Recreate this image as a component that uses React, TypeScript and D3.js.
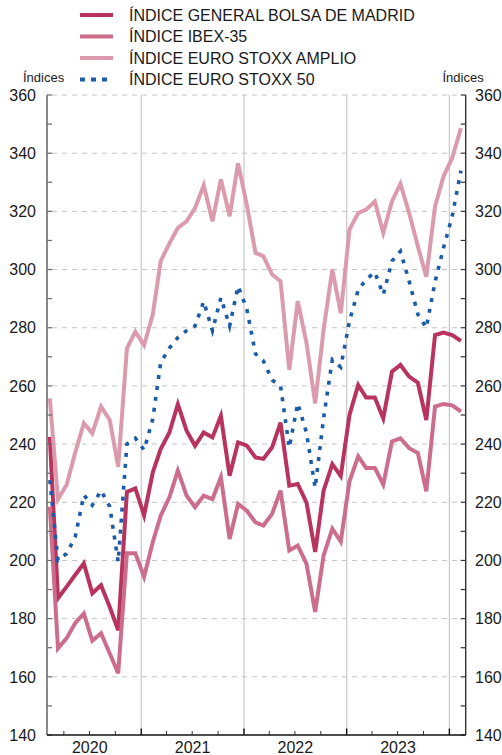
import React from "react";
import * as d3 from "d3";

// monthly observations, Feb 2020 .. Feb 2024
const months = d3.timeMonth.range(new Date(2020, 1, 1), new Date(2024, 2, 1)).map(d => new Date(d.getFullYear(), d.getMonth(), 11));

const bolsaMadrid = [242.5, 187, 191, 195, 199, 188.7, 191.5, 184, 176, 223.6, 224.8, 215.5, 230.3, 238.3, 244, 253.7, 244.6, 239.4, 244, 242.3, 249.7, 229.1, 240.6, 239.5, 235.4, 234.9, 238.9, 247.4, 225.7, 226.3, 220, 202.9, 224, 233.1, 229, 250, 260.3, 256, 256, 248.8, 264.9, 267.2, 263.2, 261.1, 248.3, 277.5, 278.3, 277.5, 275.5];
const ibex35 = [218.5, 169.8, 173.3, 178.4, 181.8, 172.4, 175, 168, 161.2, 202.5, 202.5, 194.4, 206.3, 215.4, 221.7, 230.9, 222.3, 218.3, 222.3, 221.1, 228.6, 207.4, 219.4, 217.1, 213.1, 212, 216, 224, 203.4, 205.1, 198.9, 182.3, 201.7, 210.9, 206.5, 227.2, 235.8, 231.8, 231.8, 226.1, 240.9, 242, 238.6, 236.9, 223.8, 252.9, 253.8, 253.3, 251.2];
const euroStoxxAmplio = [255.7, 221, 226, 237, 247.2, 243.7, 252.9, 248.3, 232.2, 272.9, 278.6, 274, 284.6, 302.9, 309, 314.3, 316.6, 321.1, 329, 316.6, 331, 318.3, 336.5, 322.3, 305.7, 304.6, 298.3, 296, 265.5, 289.1, 274.9, 254, 279.4, 300, 285, 313.7, 319.4, 320.6, 323.4, 312.6, 323.4, 329.5, 319.4, 308, 297.5, 321.7, 332, 338.3, 348.6];
const euroStoxx50 = [227.6, 200, 202.4, 208, 222.5, 219, 224, 218.5, 199.5, 240, 242, 238, 248.6, 268, 273, 276.6, 279, 280.6, 289, 279, 290.3, 280.6, 294.3, 286.5, 271, 268.6, 262, 260, 238.8, 254, 244, 225, 249, 269, 266.5, 282.3, 293, 296.6, 299.1, 291.4, 302.9, 306.3, 296, 284.6, 280, 295.7, 307.4, 318.3, 334];

const seriesNames = ["ÍNDICE GENERAL BOLSA DE MADRID", "ÍNDICE IBEX-35", "ÍNDICE EURO STOXX AMPLIO", "ÍNDICE EURO STOXX 50"];
const seriesValues = [bolsaMadrid, ibex35, euroStoxxAmplio, euroStoxx50];
const seriesColors = ["#b8345e", "#cc6d8b", "#dc9bad", "#1b5ca8"];
const seriesDash = [null, null, null, "4,7"];

const yTicks = [140, 160, 180, 200, 220, 240, 260, 280, 300, 320, 340, 360];
const yearLabels = ["2020", "2021", "2022", "2023"];

const FONT = "'Liberation Sans', Arial, sans-serif";

export default function App() {
  const width = 502, height = 755;
  const left = 47, right = 465.7, top = 95, bottom = 735;

  const x = d3.scaleTime().domain([new Date(2020, 1, 1), new Date(2024, 1, 28)]).range([left, right]);
  const y = d3.scaleLinear().domain([140, 360]).range([bottom, top]);

  const line = d3.line<number>()
    .x((_, i) => x(months[i]))
    .y(d => y(d));

  const yearStarts = [2021, 2022, 2023, 2024].map(yr => new Date(yr, 0, 1));
  const quarterTicks = d3.timeMonth.every(3)!.range(new Date(2020, 1, 1), new Date(2024, 1, 28))
    .filter(d => d.getMonth() !== 0);
  const minorY = d3.range(140, 361, 10);

  return (
    <svg width={width} height={height} style={{ position: "absolute", left: 0, top: 0 }} fontFamily={FONT}>
      {/* legend */}
      {seriesNames.map((name, i) => (
        <g key={name} transform={`translate(0,${15 + i * 21.5})`}>
          <line x1={80} x2={113} y1={0} y2={0} stroke={seriesColors[i]} strokeWidth={4}
            strokeDasharray={i === 3 ? "5,6" : undefined} />
          <text x={129} y={5.7} fontSize={16} fill="#1a1a1a">{name}</text>
        </g>
      ))}
      <text x={23} y={82} fontSize={13} fill="#1a1a1a">Índices</text>
      <text x={442.5} y={82} fontSize={13} fill="#1a1a1a">Índices</text>

      {/* grid */}
      {yTicks.filter(v => v > 140).map(v => (
        <line key={v} x1={left + 5} x2={right - 5} y1={y(v)} y2={y(v)} stroke="#c4c4c4" strokeWidth={1} strokeDasharray="5,5" />
      ))}
      {yearStarts.map(d => (
        <line key={+d} x1={x(d)} x2={x(d)} y1={top} y2={bottom} stroke="#c8c8c8" strokeWidth={1.2} />
      ))}

      {/* series */}
      {seriesValues.map((vals, i) => (
        <path key={i} d={line(vals) || ""} fill="none" stroke={seriesColors[i]} strokeWidth={i === 3 ? 3.6 : 4}
          strokeLinejoin="miter" strokeDasharray={seriesDash[i] || undefined} />
      ))}

      {/* axes */}
      <line x1={left} x2={left} y1={top} y2={bottom} stroke="#6b6b6b" strokeWidth={1.6} />
      <line x1={right} x2={right} y1={top} y2={bottom} stroke="#333" strokeWidth={1.4} />
      {minorY.map(v => (
        <g key={v}>
          <line x1={left} x2={left + 5} y1={y(v)} y2={y(v)} stroke="#6b6b6b" strokeWidth={1.2} />
          <line x1={right - 5} x2={right} y1={y(v)} y2={y(v)} stroke="#333" strokeWidth={1.2} />
        </g>
      ))}
      <line x1={left} x2={right} y1={bottom} y2={bottom} stroke="#111" strokeWidth={1.6} />
      {quarterTicks.map(d => (
        <line key={+d} x1={x(d)} x2={x(d)} y1={bottom} y2={bottom - 4} stroke="#333" strokeWidth={1} />
      ))}
      {yearStarts.map(d => (
        <line key={+d} x1={x(d)} x2={x(d)} y1={bottom} y2={bottom - 6.5} stroke="#111" strokeWidth={1.4} />
      ))}

      {yTicks.map(v => (
        <g key={v}>
          <text x={36} y={y(v)} dy="0.36em" textAnchor="end" fontSize={16} fill="#1a1a1a">{v}</text>
          <text x={475} y={y(v)} dy="0.36em" textAnchor="start" fontSize={16} fill="#1a1a1a">{v}</text>
        </g>
      ))}
      {yearLabels.map(yr => {
        const a = x(new Date(+yr, 0, 1)), b = x(new Date(+yr + 1, 0, 1));
        return <text key={yr} x={(a + b) / 2} y={753} textAnchor="middle" fontSize={16} fill="#1a1a1a">{yr}</text>;
      })}
    </svg>
  );
}
